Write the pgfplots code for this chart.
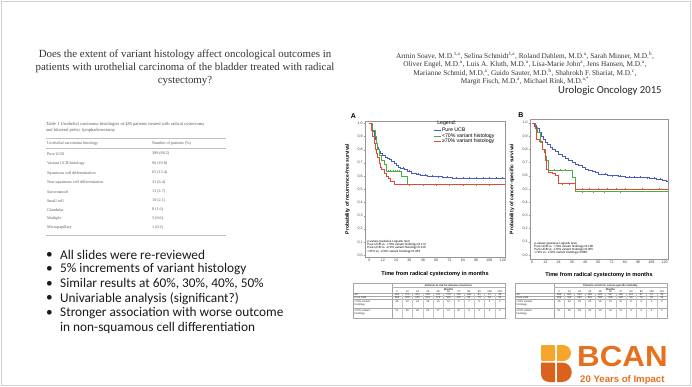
\documentclass[border=0pt]{standalone}
\usepackage{fontspec}
\setmainfont{Liberation Sans}
\newfontfamily\seriff{Liberation Serif}
\newfontfamily\calib{Carlito}
\usepackage{pgfplots}
\pgfplotsset{compat=1.18}
\definecolor{kmblue}{RGB}{72,92,192}
\definecolor{kmgreen}{RGB}{70,175,70}
\definecolor{kmred}{RGB}{228,72,58}
\definecolor{bcanlight}{RGB}{246,165,45}
\definecolor{bcandark}{RGB}{218,98,28}
\definecolor{bcantext}{RGB}{231,112,30}
\definecolor{framegray}{RGB}{150,150,150}

\pgfplotsset{
 kmline/.style={const plot, line width=0.6pt, mark=none},
 km/.style={
  scale only axis,
  axis line style={framegray, line width=0.35pt},
  tick style={framegray, line width=0.3pt},
  tick align=outside,
  major tick length=1.4pt,
  xtick={0,12,24,36,48,60,72,84,96,108,120},
  ytick={0,0.1,0.2,0.3,0.4,0.5,0.6,0.7,0.8,0.9,1.0},
  xtick pos=bottom, ytick pos=left,
  /pgf/number format/assume math mode=true,
  ticklabel style={font=\fontsize{3.6}{4}\selectfont, text=black!75, inner sep=0.8pt},
  yticklabel style={/pgf/number format/fixed, /pgf/number format/fixed zerofill, /pgf/number format/precision=1, /pgf/number format/use comma},
  xlabel style={font=\bfseries\fontsize{5.6}{6}\selectfont, anchor=center},
  ylabel style={font=\bfseries\fontsize{5}{6}\selectfont, anchor=center},
  legend style={draw=none, fill=none, font=\fontsize{5.2}{5.6}\selectfont, row sep=-0.9pt, inner sep=0pt, nodes={inner sep=0.6pt}},
  legend cell align=left,
  legend image code/.code={\draw[#1] (0pt,0pt) -- (7pt,0pt);},
 }}

\newcommand{\risktable}[6]{%
\begin{scope}[shift={(#1,283)}, every node/.style={inner sep=0pt, font=\fontsize{2.6}{3}\selectfont, text=black!85}]
 \fill[white] (0,0) rectangle (152,35);
 \draw[gray!70, line width=0.3pt] (0,0) rectangle (152,35);
 \draw[gray!70, line width=0.3pt] (39,0) -- (39,35);
 \draw[gray!60, line width=0.25pt] (39,4.5) -- (152,4.5);
 \foreach \yy in {10.5,13.5,16.5,25} \draw[gray!70,line width=0.3pt] (0,\yy) -- (152,\yy);
 \foreach \k in {1,...,10} \draw[gray!45,line width=0.2pt] ({39+\k*10.27},10.5) -- ({39+\k*10.27},35);
 \node[font=\bfseries\fontsize{2.6}{3}\selectfont] at (95.5,2.4) {#2};
 \node[font=\bfseries\fontsize{2.6}{3}\selectfont] at (95.5,6.3) {Months};
 \foreach \m [count=\i from 0] in {0,12,24,36,48,60,72,84,96,108,120} \node at ({44.1+\i*10.27},8.8) {\m};
 \foreach \v [count=\i from 0] in {#3} \node at ({44.1+\i*10.27},12) {\v};
 \foreach \v [count=\i from 0] in {#4} \node at ({44.1+\i*10.27},15) {\v};
 \foreach \v [count=\i from 0] in {#5} \node at ({44.1+\i*10.27},19) {\v};
 \foreach \v [count=\i from 0] in {#6} \node at ({44.1+\i*10.27},28) {\v};
 \node[anchor=west] at (1.5,12) {All};
 \node[anchor=west] at (1.5,15) {Pure UCB};
 \node[anchor=north west, align=left] at (1.5,17.5) {<70\% variant\\histology};
 \node[anchor=north west, align=left] at (1.5,26) {≥70\% variant\\histology};
\end{scope}}

\begin{document}
\begin{tikzpicture}
\useasboundingbox (0,0) rectangle (692pt,-387pt);
\fill[white] (0,0) rectangle (692pt,-387pt);

\begin{scope}[x=1pt,y=-1pt]
 \draw[gray!35, line width=0.8pt] (1.5,1.5) rectangle (690.5,385.5);
 % title
 \node[anchor=north, align=center, inner sep=0pt, text=black!80, font=\seriff\fontsize{10.9}{13}\selectfont] at (185,50)
  {Does the extent of variant histology affect oncological outcomes in\\patients with urothelial carcinoma of the bladder treated with radical\\cystectomy?};
 % authors
 \node[anchor=north, align=center, inner sep=0pt, text=black!80, font=\seriff\fontsize{7.3}{7.4}\selectfont] at (525,52)
  {Armin Soave, M.D.\textsuperscript{1,a}, Selina Schmidt\textsuperscript{1,a}, Roland Dahlem, M.D.\textsuperscript{a}, Sarah Minner, M.D.\textsuperscript{b},\\
   Oliver Engel, M.D.\textsuperscript{a}, Luis A. Kluth, M.D.\textsuperscript{a}, Lisa-Marie John\textsuperscript{a}, Jens Hansen, M.D.\textsuperscript{a},\\
   Marianne Schmid, M.D.\textsuperscript{a}, Guido Sauter, M.D.\textsuperscript{b}, Shahrokh F. Shariat, M.D.\textsuperscript{c},\\
   Margit Fisch, M.D.\textsuperscript{a}, Michael Rink, M.D.\textsuperscript{a,*}};
 \node[anchor=west, inner sep=0pt, text=black!85, font=\calib\fontsize{10.7}{12}\selectfont] at (558,91) {Urologic Oncology 2015};

 % table 1
 \begin{scope}[every node/.style={inner sep=0pt, text=black!65, font=\seriff\fontsize{4.1}{5}\selectfont}]
  \node[anchor=north west, align=left, font=\seriff\fontsize{4.5}{6}\selectfont] at (46,122.5)
   {Table 1 Urothelial carcinoma histologies of 485 patients treated with radical cystectomy\\and bilateral pelvic lymphadenectomy};
  \draw[gray!50, line width=0.4pt] (46,138) -- (226,138);
  \node[anchor=west] at (47,143.5) {Urothelial carcinoma histology};
  \node[anchor=west] at (152,143.5) {Number of patients (\%)};
  \draw[gray!50, line width=0.4pt] (46,148.5) -- (226,148.5);
  \node[anchor=west] at (47,154) {Pure UCB};                        \node[anchor=west] at (152,154) {389 (80.2)};
  \node[anchor=west] at (47,163.5) {Variant UCB histology};         \node[anchor=west] at (152,163.5) {96 (19.8)};
  \node[anchor=west] at (47,173) {Squamous cell differentiation};   \node[anchor=west] at (152,173) {65 (13.4)};
  \node[anchor=west] at (47,182.5) {Non-squamous cell differentiation}; \node[anchor=west] at (152,182.5) {31 (6.4)};
  \node[anchor=west] at (47,192) {Sarcomatoid};                     \node[anchor=west] at (152,192) {13 (2.7)};
  \node[anchor=west] at (47,201) {Small cell};                      \node[anchor=west] at (152,201) {10 (2.1)};
  \node[anchor=west] at (47,210) {Glandular};                       \node[anchor=west] at (152,210) {8 (1.6)};
  \node[anchor=west] at (47,219) {Multiple};                        \node[anchor=west] at (152,219) {3 (0.6)};
  \node[anchor=west] at (47,228) {Micropapillary};                  \node[anchor=west] at (152,228) {1 (0.2)};
  \draw[gray!50, line width=0.4pt] (46,235) -- (226,235);
 \end{scope}

 % bullets
 \begin{scope}[every node/.style={inner sep=0pt, anchor=west, text=black!90, font=\calib\fontsize{13.3}{15}\selectfont}]
  \foreach \yy/\txt in {255/All slides were re-reviewed, 269.5/5\% increments of variant histology, 284/{Similar results at 60\%, 30\%, 40\%, 50\%}, 298.5/Univariable analysis (significant?), 313/Stronger association with worse outcome}
   {\node at (46,\yy) {•}; \node at (60,\yy) {\txt};}
  \node at (60,327.5) {in non-squamous cell differentiation};
 \end{scope}

 % panel letters
 \node[anchor=center, inner sep=0pt, font=\bfseries\fontsize{7}{8}\selectfont] at (353.5,116) {A};
 \node[anchor=center, inner sep=0pt, font=\bfseries\fontsize{7}{8}\selectfont] at (521,115) {B};

 % risk tables
 \risktable{353}{Patients at risk for disease recurrence}
  {485,374,301,252,211,176,140,108,81,57,36}
  {389,306,251,212,179,150,121,93,70,50,32}
  {45,32,24,18,15,12,9,7,5,3,2}
  {51,36,26,22,17,14,10,8,6,4,2}
 \risktable{515}{Patients at risk for cancer-specific mortality}
  {485,381,316,266,224,187,150,116,87,61,39}
  {389,311,262,222,189,158,129,99,75,53,34}
  {45,34,26,20,16,13,10,8,6,4,3}
  {51,36,28,24,19,16,11,9,6,4,2}

 % BCAN logo
 \fill[bcanlight, rounded corners=1.2pt] (541,345) rectangle (555,361);
 \fill[bcanlight] (557,345) -- (563,345) arc[start angle=-90, end angle=90, radius=8] -- (557,361) -- cycle;
 \fill[bcandark] (555,362.5) -- (555,382) -- (549,382) arc[start angle=90, end angle=180, radius=8] -- (541,362.5) -- cycle;
 \fill[bcandark] (557,362.5) -- (562,362.5) arc[start angle=-90, end angle=90, radius=9.75] -- (557,382) -- cycle;
 \node[anchor=base west, inner sep=0pt, xscale=1.08, text=bcantext, font=\bfseries\fontsize{29}{31}\selectfont] at (577,366) {BCAN};
 \node[anchor=base west, inner sep=0pt, text=bcantext, font=\bfseries\fontsize{9.6}{10.5}\selectfont] at (580,382) {20 Years of Impact};
\end{scope}

% ---------- Panel A ----------
\begin{axis}[km, at={(365pt,-121pt)}, anchor=north west, width=140pt, height=136pt,
  xmin=-4, xmax=122, ymin=-0.013, ymax=1.018,
  ylabel={Probability of recurrence-free survival},
  xlabel={Time from radical cystectomy in months},
  ylabel style={at={(rel axis cs:-0.125,0.5)}},
  xlabel style={at={(rel axis cs:0.5,-0.125)}},
  legend style={at={(0.49,0.955)}, anchor=north west}]
\addplot[kmblue, kmline] coordinates {(0,1) (2,0.97) (3,0.94) (4,0.91) (5,0.88) (6,0.85) (7,0.82) (8,0.80) (9,0.79) (10,0.775) (12,0.76) (14,0.745) (16,0.735) (18,0.725) (20,0.71) (22,0.70) (24,0.685) (26,0.67) (28,0.66) (31,0.65) (34,0.64) (38,0.625) (42,0.615) (46,0.605) (52,0.60) (58,0.595) (66,0.59) (75,0.585) (122,0.585)};
\addplot[kmgreen, kmline] coordinates {(0,1) (3,0.95) (5,0.90) (6,0.85) (7,0.80) (9,0.76) (11,0.72) (13,0.69) (15,0.64) (29,0.60) (34,0.535) (122,0.535)};
\addplot[kmred, kmline] coordinates {(0,1) (2,0.95) (3,0.90) (4,0.85) (5,0.80) (6,0.77) (7,0.74) (9,0.70) (10,0.67) (11,0.65) (13,0.62) (15,0.60) (17,0.58) (19,0.56) (22,0.535) (122,0.535)};
\legend{Pure UCB, <70\% variant histology, ≥70\% variant histology}
\addplot[forget plot, only marks, mark=|, mark size=1pt, kmblue, line width=0.3pt] coordinates {(30,0.66) (36,0.64) (44,0.615) (50,0.605) (56,0.60) (62,0.595) (70,0.59) (78,0.585) (84,0.585) (90,0.585) (96,0.585) (102,0.585) (108,0.585) (114,0.585) (119,0.585)};
\addplot[forget plot, only marks, mark=|, mark size=1pt, kmgreen, line width=0.3pt] coordinates {(17,0.64) (19,0.64) (21,0.64) (23,0.64) (25,0.64) (27,0.64) (48,0.535) (72,0.535) (96,0.535)};
\addplot[forget plot, only marks, mark=|, mark size=1pt, kmred, line width=0.3pt] coordinates {(36,0.535) (60,0.535) (84,0.535) (108,0.535)};
\node[anchor=west, inner sep=0pt, font=\fontsize{5.2}{5.6}\selectfont] at (rel axis cs:0.515,0.985) {Legend:};
\node[anchor=south west, align=left, inner sep=0pt, font=\fontsize{3}{3.3}\selectfont] at (rel axis cs:0.015,0.03)
 {p-values (pairwise Logrank test)\\Pure UCB vs. <70\% variant histology=0.172\\Pure UCB vs. ≥70\% variant histology=0.116\\<70\% vs. ≥70\% variant histology=0.853};
\end{axis}

% ---------- Panel B ----------
\begin{axis}[km, at={(530pt,-119pt)}, anchor=north west, width=138pt, height=140pt,
  xmin=-2, xmax=123, ymin=-0.03, ymax=1.03,
  ylabel={Probability of cancer-specific survival},
  xlabel={Time from radical cystectomy in months},
  ylabel style={at={(rel axis cs:-0.13,0.5)}},
  xlabel style={at={(rel axis cs:0.5,-0.115)}}]
\addplot[kmblue, kmline] coordinates {(0,1) (2,0.98) (4,0.96) (6,0.93) (8,0.90) (10,0.875) (12,0.85) (14,0.835) (16,0.815) (18,0.80) (21,0.785) (24,0.765) (27,0.75) (30,0.73) (33,0.715) (36,0.70) (39,0.69) (42,0.68) (45,0.665) (48,0.65) (51,0.64) (54,0.634) (57,0.625) (60,0.614) (64,0.61) (68,0.605) (72,0.60) (78,0.595) (84,0.59) (100,0.585) (106,0.58) (112,0.575) (118,0.565) (121,0.56) (123,0.56)};
\addplot[kmgreen, kmline] coordinates {(0,1) (3,0.97) (5,0.93) (7,0.85) (9,0.80) (12,0.75) (13,0.72) (15,0.645) (36,0.59) (39,0.48) (123,0.48)};
\addplot[kmred, kmline] coordinates {(0,1) (3,0.96) (4,0.88) (6,0.86) (9,0.80) (11,0.78) (12,0.72) (13,0.65) (15,0.63) (18,0.62) (21,0.60) (24,0.54) (39,0.50) (123,0.50)};
\addplot[forget plot, only marks, mark=|, mark size=1pt, kmblue, line width=0.3pt] coordinates {(2,0.98) (4,0.96) (66,0.61) (72,0.60) (80,0.595) (88,0.59) (92,0.59) (98,0.59) (104,0.585) (110,0.58) (116,0.575)};
\addplot[forget plot, only marks, mark=|, mark size=1pt, kmgreen, line width=0.3pt] coordinates {(20,0.645) (25,0.645) (30,0.645) (45,0.48) (55,0.48) (65,0.48) (80,0.48)};
\addplot[forget plot, only marks, mark=|, mark size=1pt, kmred, line width=0.3pt] coordinates {(27,0.54) (33,0.54) (45,0.50) (52,0.50) (60,0.50) (68,0.50) (76,0.50) (84,0.50) (100,0.50) (115,0.50)};
\node[anchor=south west, align=left, inner sep=0pt, font=\fontsize{3}{3.3}\selectfont] at (rel axis cs:0.03,0.03)
 {p-values (pairwise Logrank test)\\Pure UCB vs. <70\% variant histology=0.100\\Pure UCB vs. ≥70\% variant histology=0.055\\<70\% vs. ≥70\% variant histology=0.860};
\end{axis}
\end{tikzpicture}
\end{document}
